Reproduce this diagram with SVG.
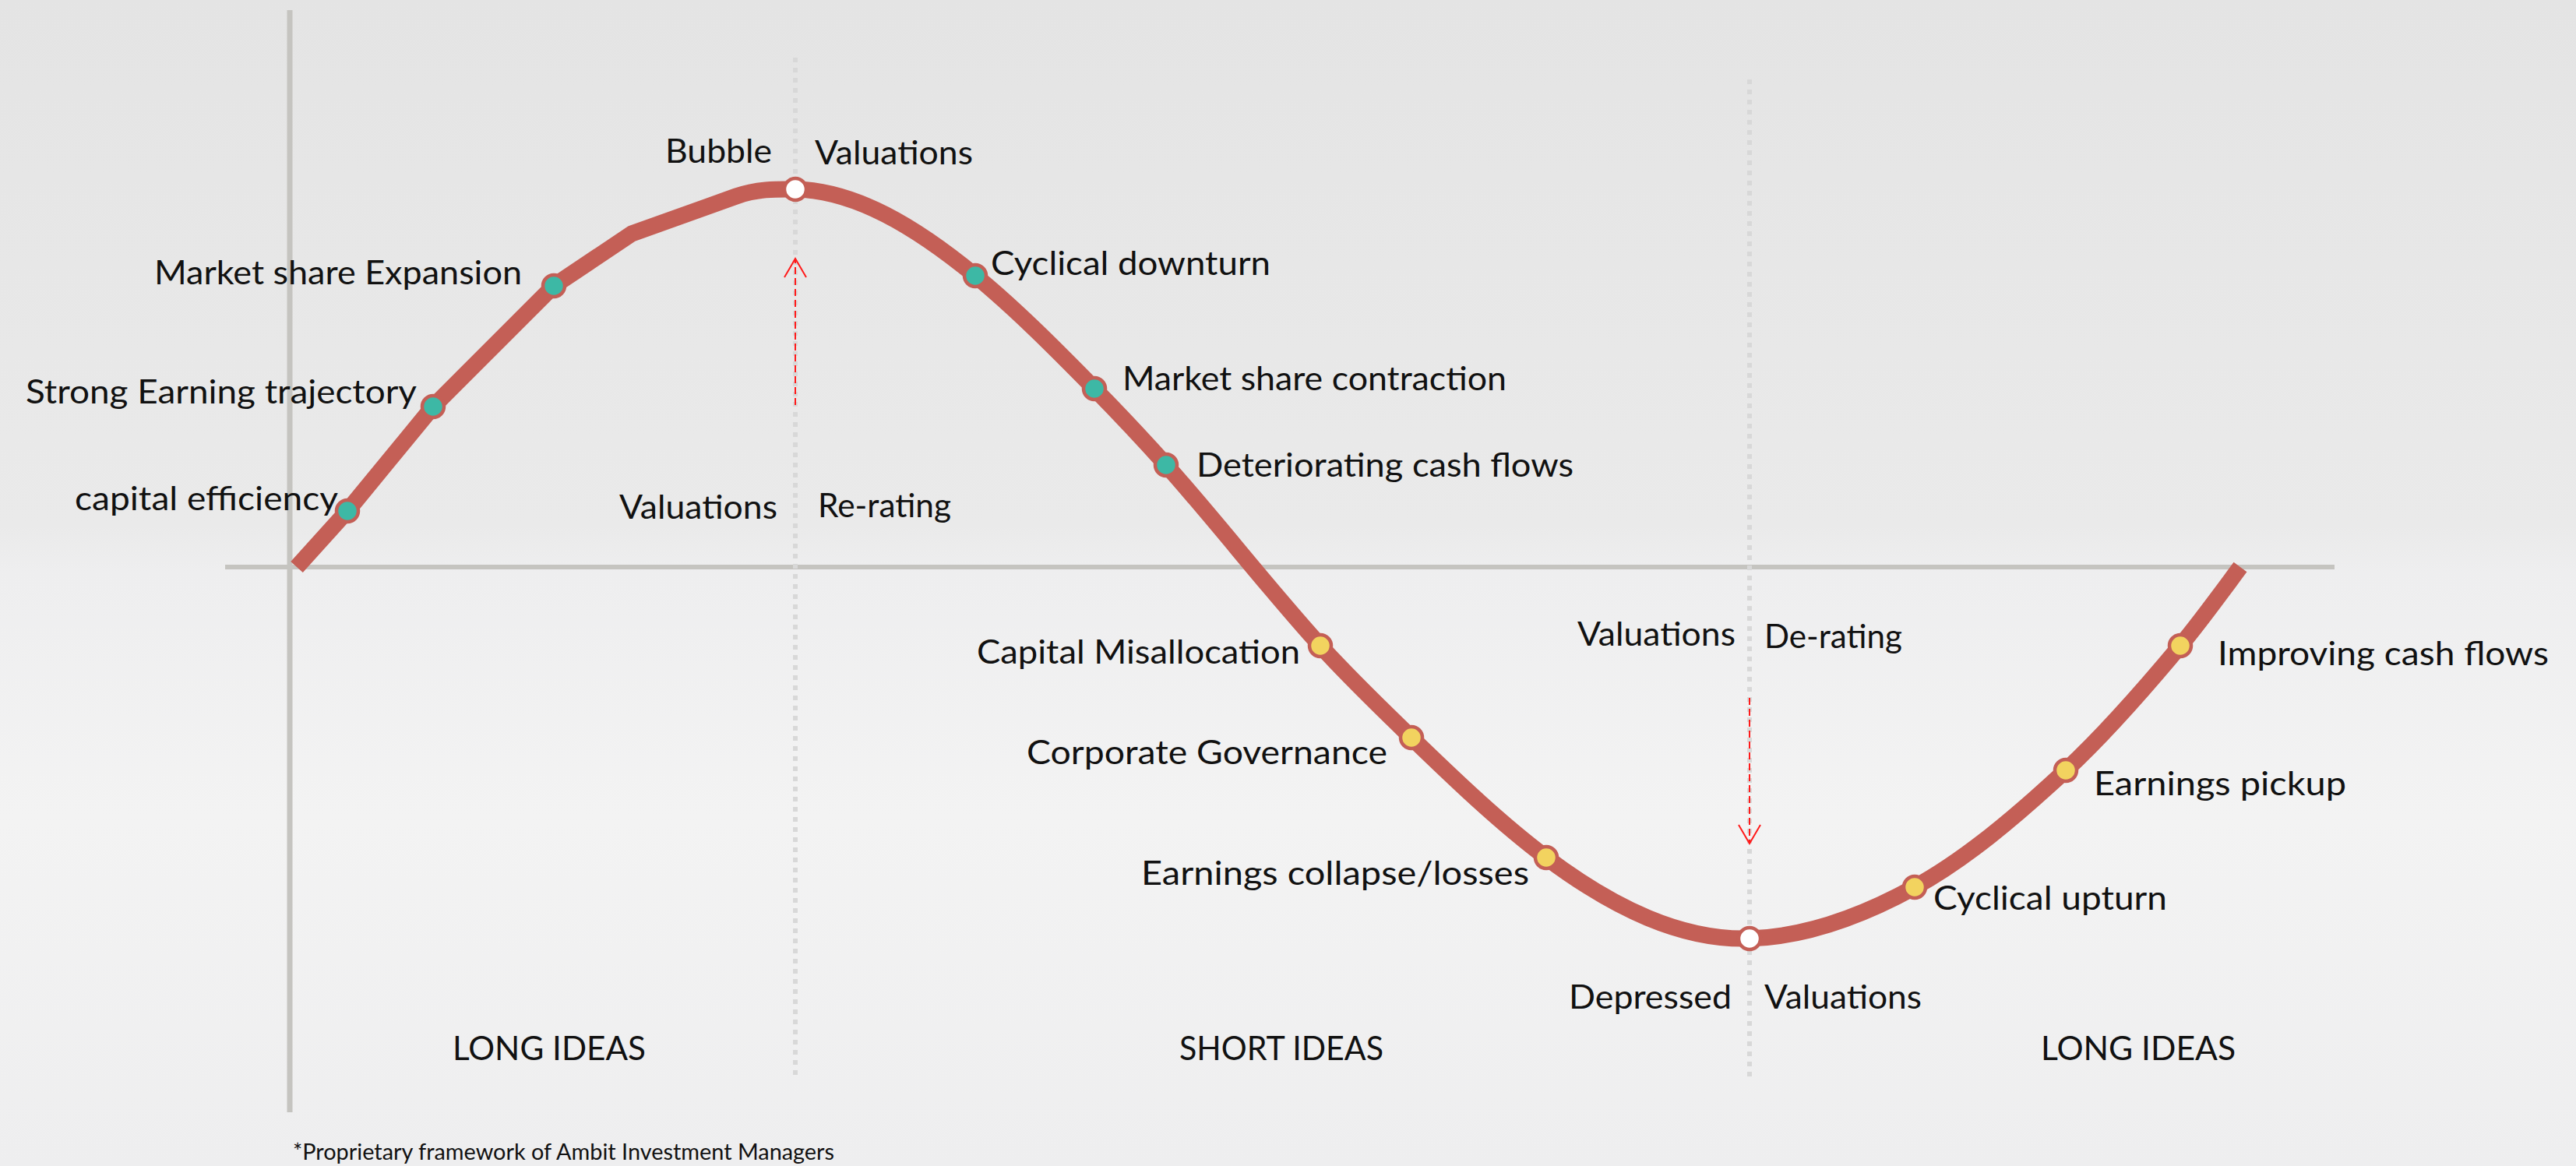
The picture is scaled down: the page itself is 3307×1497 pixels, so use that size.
<svg xmlns="http://www.w3.org/2000/svg" width="3307" height="1497" viewBox="0 0 3307 1497">
  <defs>
    <linearGradient id="bg" x1="0" y1="0" x2="0" y2="1">
      <stop offset="0" stop-color="#e4e4e4"/>
      <stop offset="0.45" stop-color="#eaeaea"/>
      <stop offset="0.49" stop-color="#eeeeef"/>
      <stop offset="0.7" stop-color="#f3f3f3"/>
      <stop offset="1" stop-color="#eeeeef"/>
    </linearGradient>
    <marker id="head" markerUnits="userSpaceOnUse" markerWidth="40" markerHeight="40" viewBox="-30 -20 40 40" refX="0" refY="0" orient="auto" overflow="visible">
      <path d="M-24,-14 L0,0 L-24,14" fill="none" stroke="#ff1a1a" stroke-width="2"/>
    </marker>
    <style>
      .lbl { font-family: Lato, "Liberation Sans", sans-serif; font-size: 43px; fill: #111; }
      .zone { font-family: Lato, "Liberation Sans", sans-serif; font-size: 43px; fill: #111; }
      .note { font-family: Lato, "Liberation Sans", sans-serif; font-size: 29px; fill: #111; }
      .axis { stroke: #c5c4c0; fill: none; }
      .guide { stroke: #d8d8d8; stroke-width: 6; stroke-dasharray: 6 7; fill: none; }
      .move { stroke: #ff1a1a; stroke-width: 2; stroke-dasharray: 9 5; fill: none; }
      .cycle { stroke: #c45f56; stroke-width: 21; fill: none; stroke-linecap: butt; stroke-linejoin: round; }
      .dot { stroke: #c45f56; stroke-width: 4.5; }
      .teal { fill: #3db8a5; }
      .gold { fill: #f2d35f; }
      .hollow { fill: #ffffff; }
    </style>
  </defs>

  <!-- backdrop -->
  <rect x="0" y="0" width="3307" height="1497" fill="url(#bg)"/>

  <!-- axes and phase guides -->
  <g id="axes">
    <line class="axis" x1="372" y1="13" x2="372" y2="1428" stroke-width="7"/>
    <line class="axis" x1="289" y1="728" x2="2997" y2="728" stroke-width="6"/>
    <line class="guide" x1="1021" y1="74" x2="1021" y2="1383"/>
    <line class="guide" x1="2246" y1="102" x2="2246" y2="1383"/>
  </g>

  <!-- cycle curve and valuation moves -->
  <g id="connectors">
    <path class="cycle" d="M381,728 L446,656 L556,522 L711,367 L811,300 L945,252
      C970.3,242.9 995.7,242.5 1021,243
      C1098,244.5 1175,290.9 1252,354
      C1303,395.8 1354,447 1405,499
      C1435.7,530.3 1466.3,562.7 1497,597
      C1563,670.9 1629,756.4 1695,829
      C1734,871.9 1773,909.2 1812,947
      C1869.7,1002.9 1927.3,1057.7 1985,1101
      C2072,1166.3 2159,1207.6 2246,1205
      C2316.7,1202.9 2387.3,1177.9 2458,1139
      C2522.7,1103.4 2587.3,1049.1 2652,989
      C2701,943.4 2750,887.8 2799,829
      C2824.7,798.2 2850.3,762.7 2876,728"/>
    <line id="rerate-move" class="move" x1="1021" y1="520" x2="1021" y2="332" marker-end="url(#head)"/>
    <line id="derate-move" class="move" x1="2246" y1="896" x2="2246" y2="1083" marker-end="url(#head)"/>
  </g>

  <!-- upswing: long ideas -->
  <g id="capital-efficiency">
    <circle class="dot teal" cx="446" cy="656" r="14"/>
    <text class="lbl" x="96" y="655" textLength="338" lengthAdjust="spacingAndGlyphs">capital efficiency</text>
  </g>
  <g id="strong-earning">
    <circle class="dot teal" cx="556" cy="522" r="14"/>
    <text class="lbl" x="33" y="518" textLength="502" lengthAdjust="spacingAndGlyphs">Strong Earning trajectory</text>
  </g>
  <g id="market-share-expansion">
    <circle class="dot teal" cx="711" cy="367" r="14"/>
    <text class="lbl" x="198" y="365" textLength="472" lengthAdjust="spacingAndGlyphs">Market share Expansion</text>
  </g>

  <!-- peak -->
  <g id="bubble-valuations">
    <circle class="dot hollow" cx="1021" cy="243" r="14"/>
    <text class="lbl" x="854" y="209" textLength="137" lengthAdjust="spacingAndGlyphs">Bubble</text>
    <text class="lbl" x="1046" y="211" textLength="203" lengthAdjust="spacingAndGlyphs">Valuations</text>
  </g>
  <g id="valuations-rerating">
    <text class="lbl" x="795" y="666" textLength="203" lengthAdjust="spacingAndGlyphs">Valuations</text>
    <text class="lbl" x="1050" y="664" textLength="171" lengthAdjust="spacingAndGlyphs">Re-rating</text>
  </g>

  <!-- downswing: short ideas -->
  <g id="cyclical-downturn">
    <circle class="dot teal" cx="1252" cy="354" r="14"/>
    <text class="lbl" x="1272" y="353" textLength="359" lengthAdjust="spacingAndGlyphs">Cyclical downturn</text>
  </g>
  <g id="market-share-contraction">
    <circle class="dot teal" cx="1405" cy="499" r="14"/>
    <text class="lbl" x="1441" y="501" textLength="493" lengthAdjust="spacingAndGlyphs">Market share contraction</text>
  </g>
  <g id="deteriorating-cash-flows">
    <circle class="dot teal" cx="1497" cy="597" r="14"/>
    <text class="lbl" x="1536" y="612" textLength="484" lengthAdjust="spacingAndGlyphs">Deteriorating cash flows</text>
  </g>
  <g id="capital-misallocation">
    <circle class="dot gold" cx="1695" cy="829" r="14"/>
    <text class="lbl" x="1254" y="852" textLength="415" lengthAdjust="spacingAndGlyphs">Capital Misallocation</text>
  </g>
  <g id="corporate-governance">
    <circle class="dot gold" cx="1812" cy="947" r="14"/>
    <text class="lbl" x="1318" y="981" textLength="463" lengthAdjust="spacingAndGlyphs">Corporate Governance</text>
  </g>
  <g id="earnings-collapse">
    <circle class="dot gold" cx="1985" cy="1101" r="14"/>
    <text class="lbl" x="1465" y="1136" textLength="498" lengthAdjust="spacingAndGlyphs">Earnings collapse/losses</text>
  </g>
  <g id="valuations-derating">
    <text class="lbl" x="2025" y="829" textLength="203" lengthAdjust="spacingAndGlyphs">Valuations</text>
    <text class="lbl" x="2265" y="832" textLength="177" lengthAdjust="spacingAndGlyphs">De-rating</text>
  </g>

  <!-- trough -->
  <g id="depressed-valuations">
    <circle class="dot hollow" cx="2246" cy="1205" r="14"/>
    <text class="lbl" x="2014" y="1295" textLength="209" lengthAdjust="spacingAndGlyphs">Depressed</text>
    <text class="lbl" x="2265" y="1295" textLength="202" lengthAdjust="spacingAndGlyphs">Valuations</text>
  </g>

  <!-- recovery: long ideas -->
  <g id="cyclical-upturn">
    <circle class="dot gold" cx="2458" cy="1139" r="14"/>
    <text class="lbl" x="2482" y="1168" textLength="300" lengthAdjust="spacingAndGlyphs">Cyclical upturn</text>
  </g>
  <g id="earnings-pickup">
    <circle class="dot gold" cx="2652" cy="989" r="14"/>
    <text class="lbl" x="2688" y="1021" textLength="324" lengthAdjust="spacingAndGlyphs">Earnings pickup</text>
  </g>
  <g id="improving-cash-flows">
    <circle class="dot gold" cx="2799" cy="829" r="14"/>
    <text class="lbl" x="2847" y="854" textLength="425" lengthAdjust="spacingAndGlyphs">Improving cash flows</text>
  </g>

  <!-- phase captions -->
  <g id="zones">
    <text class="zone" x="581" y="1361" textLength="248" lengthAdjust="spacingAndGlyphs">LONG IDEAS</text>
    <text class="zone" x="1514" y="1361" textLength="262" lengthAdjust="spacingAndGlyphs">SHORT IDEAS</text>
    <text class="zone" x="2620" y="1361" textLength="250" lengthAdjust="spacingAndGlyphs">LONG IDEAS</text>
  </g>

  <g id="footnote">
    <text class="note" x="376" y="1489" textLength="695" lengthAdjust="spacingAndGlyphs">*Proprietary framework of Ambit Investment Managers</text>
  </g>
</svg>
